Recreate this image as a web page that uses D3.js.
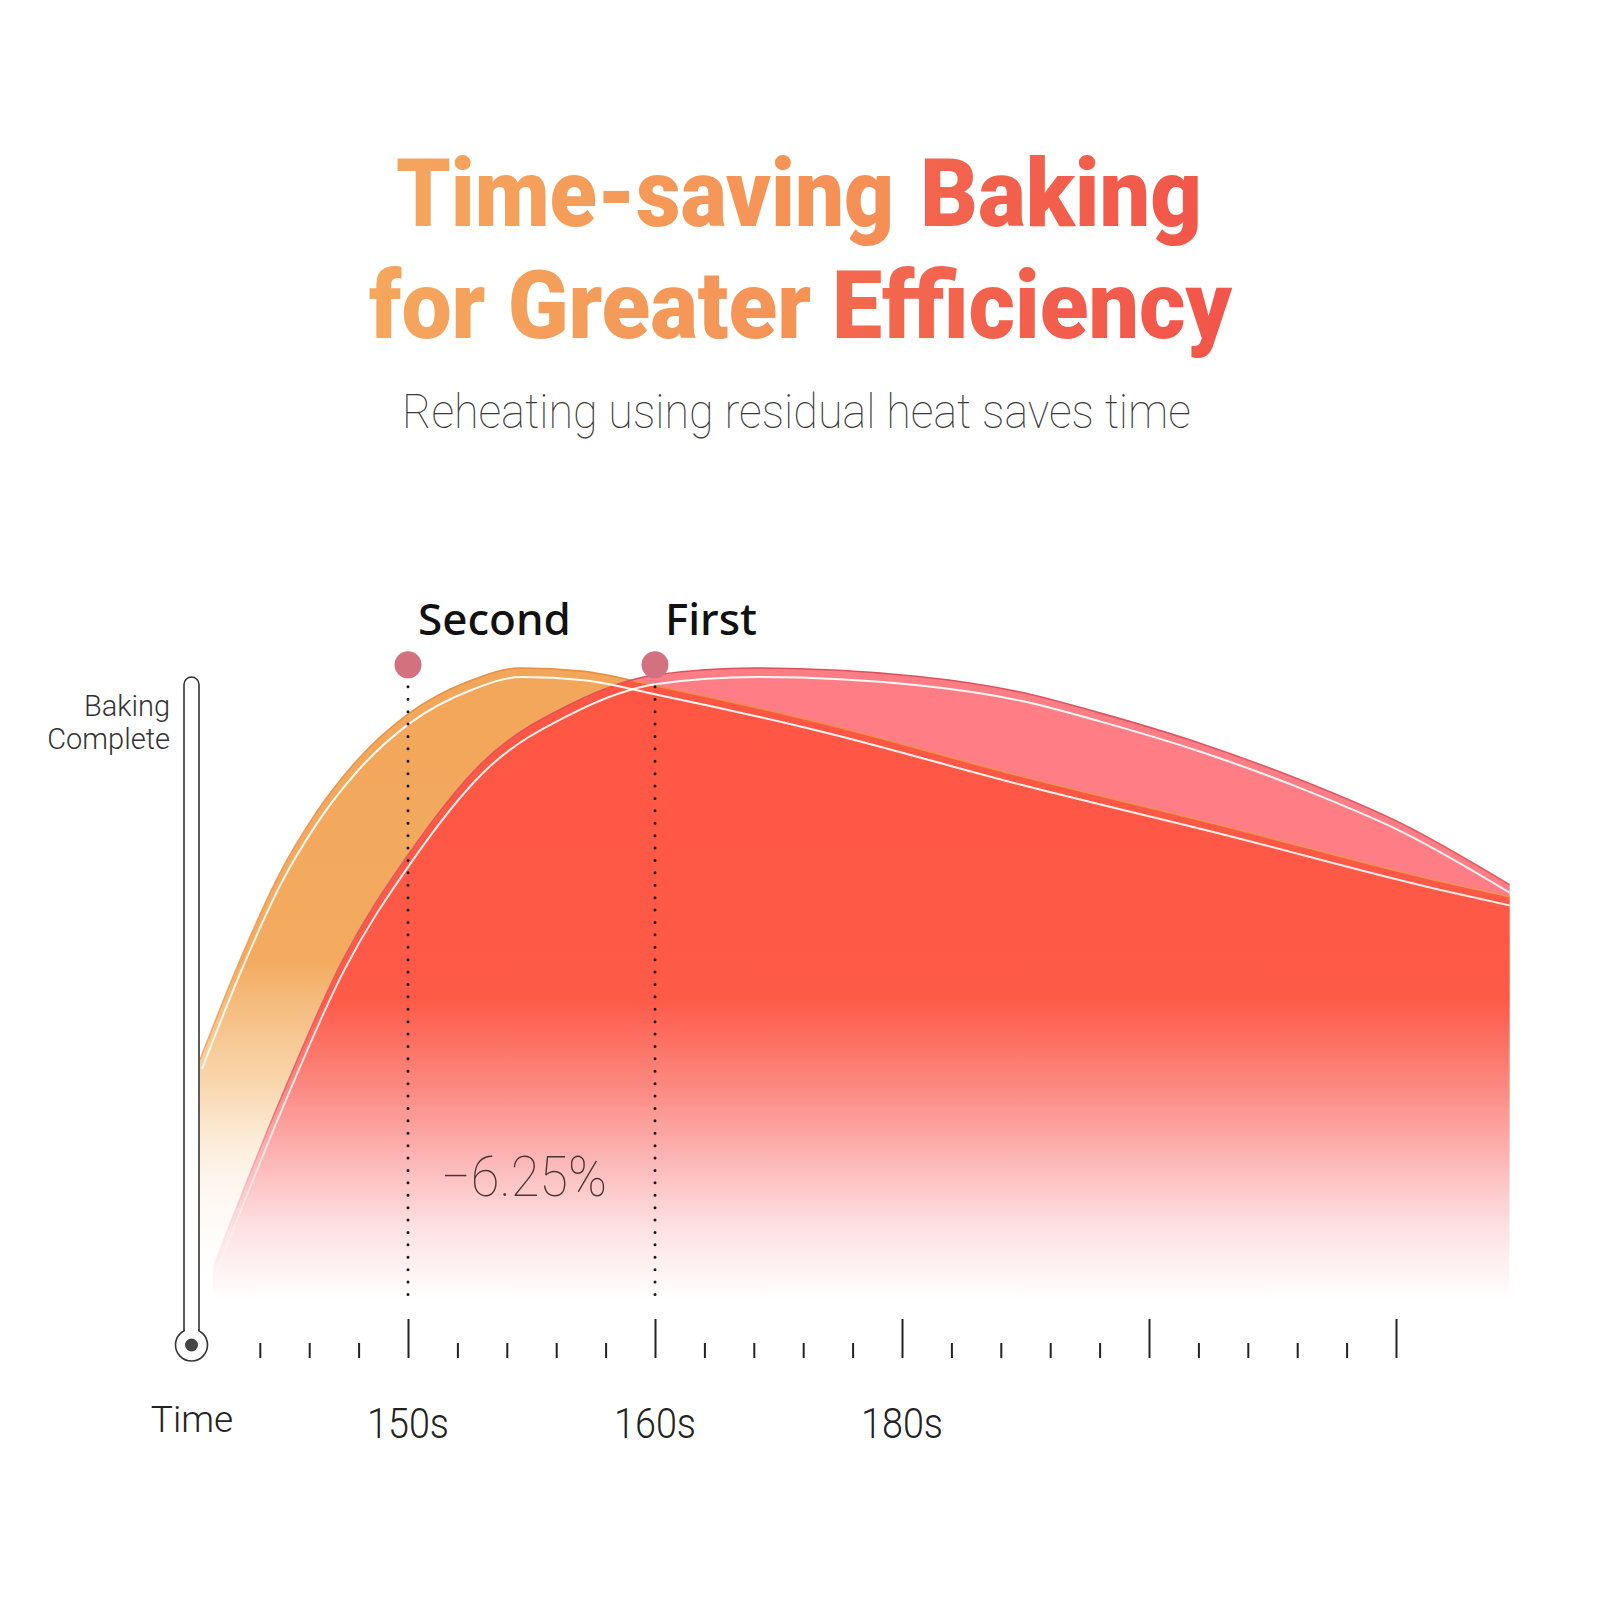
<!DOCTYPE html>
<html lang="en">
<head>
<meta charset="UTF-8">
<title>Time-saving Baking</title>
<script src="https://cdn.jsdelivr.net/npm/d3@7"></script>
<style>
    body{ margin:0; background:#fff; }
    .title{ font-family: Roboto, "Noto Sans", sans-serif; font-weight:900; font-size:95px; }
    .thin{ font-family: Roboto, "Noto Sans", sans-serif; font-weight:300; }
    .mark{ font-family: "Noto Sans", Roboto, sans-serif; font-weight:500; font-size:44px; fill:#111; }
</style>
</head>
<body>
<div id="container"></div>
<script>
// tick slots along the time axis (0 = 150s, 5 = 160s, 10 = 180s)
const tickSlots = d3.range(-3, 21);
const majorSlots = [0, 5, 10, 15, 20];
const labelSlots = [0, 5, 10];
const tickLabels = ["150s", "160s", "180s"];

// second bake (orange) - progress in %
const secondSlots = [-4.21, -3.4, -2.59, -1.92, -1.03, 0, 1.23, 2.27, 3.52, 5, 8.26, 12.39, 16.5, 20.75, 22.3];
const secondVals  = [38, 53.8, 67.6, 76.4, 85.4, 92.7, 97.9, 100, 99.5, 97.2, 91.5, 82.9, 75, 66.5, 63.8];

// first bake (pink)
const firstSlots = [-3.95, -2.59, -1.32, 0, 1.46, 3.3, 5, 7.02, 10.28, 12.39, 14.0, 16.03, 18.06, 20.08, 22.3];
const firstVals  = [5.2, 31.6, 53.8, 70.4, 84.7, 94.3, 98.9, 100, 98.7, 96.2, 92.9, 88.1, 82.3, 75.5, 65.7];

const markerNames = ["Second", "First"];
const markerSlots = [0, 5];
const markerVal = 100.5;
const savingText = "\u22126.25%";

const titleWords = [
    {text: "Time-saving", x: 396, y: 226, w: 498, fill: "url(#tOrange)"},
    {text: "Baking", x: 920, y: 226, w: 282, fill: "url(#tRed)"},
    {text: "for Greater", x: 369, y: 338, w: 442, fill: "url(#tOrange)"},
    {text: "Efficiency", x: 832, y: 338, w: 400, fill: "url(#tRed)"}
];

const width = 1600, height = 1600;
const svg = d3.select("#container").append("svg")
    .attr("width", width).attr("height", height)
    .attr("viewBox", `0 0 ${width} ${height}`);

const x = d3.scaleLinear().domain([0, 20]).range([408, 1396]);
const y = d3.scaleLinear().domain([0, 100]).range([1300, 668]);

const defs = svg.append("defs");
function vgrad(id, stops){
    const g = defs.append("linearGradient").attr("id", id)
        .attr("gradientUnits", "userSpaceOnUse")
        .attr("x1", 0).attr("x2", 0).attr("y1", 660).attr("y2", 1300);
    stops.forEach(s => g.append("stop").attr("offset", s[0]).attr("stop-color", s[1]).attr("stop-opacity", s[2]));
}
vgrad("gOrange", [[0,"#F2A65A",1],[0.47,"#F3AB60",1],[0.66,"#F6C890",0.75],[0.81,"#FBE6D0",0.4],[1,"#FFFFFF",0]]);
vgrad("gRed", [[0,"#FF5643",1],[0.53,"#FE5A48",1],[0.67,"#FB8A82",1],[0.78,"#FCB6B6",1],[0.89,"#FDE2E4",1],[1,"#FFFFFF",1]]);
vgrad("gPink", [[0,"#FF7D84",1],[0.5,"#FF7D84",1],[1,"#FFFFFF",0]]);
vgrad("gWhite", [[0,"#FFFFFF",0.95],[0.7,"#FFFFFF",0.8],[1,"#FFFFFF",0]]);
vgrad("gEdgeO", [[0,"#E88E44",1],[0.7,"#EFA35E",0.8],[1,"#FFFFFF",0]]);
vgrad("gEdgeP", [[0,"#DE4F5C",1],[0.7,"#E65A66",0.8],[1,"#FFFFFF",0]]);

// title gradients
const go = defs.append("linearGradient").attr("id", "tOrange").attr("gradientUnits", "userSpaceOnUse")
    .attr("x1", 360).attr("x2", 900).attr("y1", 0).attr("y2", 0);
go.append("stop").attr("offset", 0).attr("stop-color", "#F4A75D");
go.append("stop").attr("offset", 1).attr("stop-color", "#F58E55");
const gr = defs.append("linearGradient").attr("id", "tRed").attr("gradientUnits", "userSpaceOnUse")
    .attr("x1", 820).attr("x2", 1240).attr("y1", 0).attr("y2", 0);
gr.append("stop").attr("offset", 0).attr("stop-color", "#F36A4F");
gr.append("stop").attr("offset", 1).attr("stop-color", "#F2554A");

// title, one text per word
svg.append("g").selectAll("text").data(titleWords).join("text")
    .attr("class", "title")
    .attr("x", d => d.x).attr("y", d => d.y)
    .attr("textLength", d => d.w).attr("lengthAdjust", "spacingAndGlyphs")
    .attr("fill", d => d.fill)
    .text(d => d.text);

svg.append("text").attr("class", "thin").attr("x", 402).attr("y", 428)
    .attr("textLength", 789).attr("lengthAdjust", "spacingAndGlyphs")
    .style("font-size", "48px").style("font-weight", 100).style("fill", "#3a3a3a")
    .text("Reheating using residual heat saves time");

// curves
const second = secondSlots.map((s, i) => ({s: s, v: secondVals[i]}));
const first = firstSlots.map((s, i) => ({s: s, v: firstVals[i]}));

const area = d3.area().x(d => x(d.s)).y0(y(0)).y1(d => y(d.v)).curve(d3.curveMonotoneX);
const line = d3.line().x(d => x(d.s)).y(d => y(d.v)).curve(d3.curveMonotoneX);

defs.append("clipPath").attr("id", "clipSecond").append("path").attr("d", area(second));
defs.append("clipPath").attr("id", "clipFirst").append("path").attr("d", area(first));

const chart = svg.append("g");
chart.append("path").attr("d", area(second)).attr("fill", "url(#gOrange)");
chart.append("path").attr("d", area(first)).attr("fill", "url(#gPink)");
chart.append("path").attr("d", area(first)).attr("fill", "url(#gRed)").attr("clip-path", "url(#clipSecond)");

chart.append("path").attr("d", line(second)).attr("fill", "none")
    .attr("stroke", "url(#gEdgeO)").attr("stroke-width", 1.6);
chart.append("path").attr("d", line(first)).attr("fill", "none")
    .attr("stroke", "url(#gEdgeP)").attr("stroke-width", 1.6);

chart.append("g").attr("clip-path", "url(#clipSecond)")
  .append("path").attr("d", line(second)).attr("transform", "translate(2,9)")
    .attr("fill", "none").attr("stroke", "url(#gWhite)").attr("stroke-width", 2);
chart.append("g").attr("clip-path", "url(#clipFirst)")
  .append("path").attr("d", line(first)).attr("transform", "translate(2,9)")
    .attr("fill", "none").attr("stroke", "url(#gWhite)").attr("stroke-width", 2);

// marker dots and dotted guides
const marks = svg.append("g").selectAll("g").data(markerSlots).join("g");
marks.append("line")
    .attr("x1", d => x(d)).attr("x2", d => x(d))
    .attr("y1", y(markerVal) + 22).attr("y2", 1300)
    .attr("stroke", "#1a1a1a").attr("stroke-width", 3)
    .attr("stroke-linecap", "round").attr("stroke-dasharray", "0,12.4");
marks.append("circle")
    .attr("cx", d => x(d)).attr("cy", y(markerVal)).attr("r", 13.5)
    .attr("fill", "#D3717F");
marks.append("text").attr("class", "mark")
    .attr("x", d => x(d) + 10).attr("y", 635)
    .text((d, i) => markerNames[i]);

svg.append("text").attr("class", "thin")
    .attr("x", 441).attr("y", 1196)
    .attr("textLength", 166).attr("lengthAdjust", "spacingAndGlyphs")
    .style("font-size", "56px").style("font-weight", 100).style("fill", "#4a3436")
    .text(savingText);

// thermometer style y indicator
svg.append("rect").attr("x", 184).attr("y", 677).attr("width", 15).attr("height", 670)
    .attr("rx", 7.5).attr("fill", "#fff").attr("stroke", "#333").attr("stroke-width", 1.6);
svg.append("circle").attr("cx", 191.5).attr("cy", 1345).attr("r", 16)
    .attr("fill", "#fff").attr("stroke", "#333").attr("stroke-width", 1.6);
svg.append("rect").attr("x", 185).attr("y", 1320).attr("width", 13).attr("height", 12).attr("fill", "#fff");
svg.append("circle").attr("cx", 191.5).attr("cy", 1345).attr("r", 6.5).attr("fill", "#454549");

svg.append("text").attr("class", "thin").attr("text-anchor", "end")
    .attr("x", 170).attr("y", 716).style("font-size", "29px").style("fill", "#333")
    .text("Baking");
svg.append("text").attr("class", "thin").attr("text-anchor", "end")
    .attr("x", 170).attr("y", 749).style("font-size", "29px").style("fill", "#333")
    .text("Complete");

// time axis
const xAxis = d3.axisTop(x).tickValues(tickSlots).tickSize(15).tickFormat("");
const ax = svg.append("g").attr("transform", "translate(0,1358)").call(xAxis);
ax.select(".domain").remove();
ax.selectAll(".tick line")
    .attr("stroke", "#222").attr("stroke-width", 2)
    .attr("y2", d => majorSlots.includes(d) ? -39 : -15);

svg.append("g").selectAll("text").data(labelSlots).join("text")
    .attr("class", "thin").attr("text-anchor", "middle")
    .attr("x", d => x(d)).attr("y", 1438)
    .attr("textLength", 82).attr("lengthAdjust", "spacingAndGlyphs")
    .style("font-size", "43px").style("fill", "#222")
    .text((d, i) => tickLabels[i]);

svg.append("text").attr("class", "thin").attr("text-anchor", "middle")
    .attr("x", 192).attr("y", 1432).style("font-size", "37px").style("fill", "#222")
    .text("Time");
</script>
</body>
</html>
